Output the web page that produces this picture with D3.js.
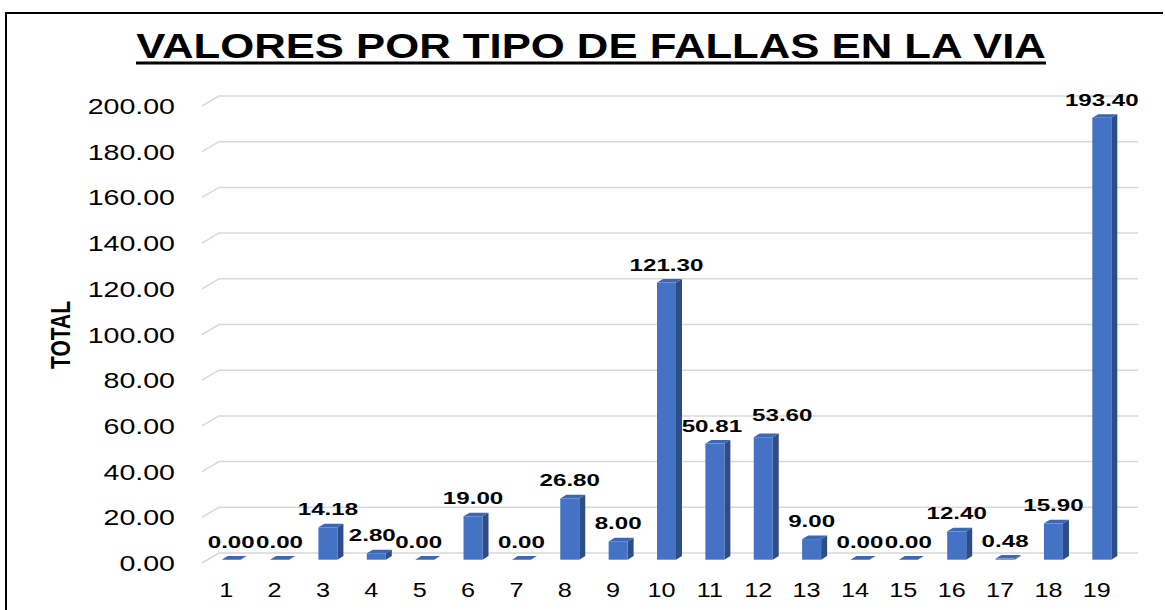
<!DOCTYPE html>
<meta charset="utf-8">
<head>
<script src="https://cdn.jsdelivr.net/npm/d3@7"></script>
<style>
body { margin: 0; background: #fff; }
text { font-family: "Liberation Sans", Arial, sans-serif; fill: #000; }
</style>
</head>
<body>
<div id="chart"></div>
<script>
// data
var categories = ["1","2","3","4","5","6","7","8","9","10","11","12","13","14","15","16","17","18","19"];
var values = [0.00, 0.00, 14.18, 2.80, 0.00, 19.00, 0.00, 26.80, 8.00, 121.30, 50.81, 53.60, 9.00, 0.00, 0.00, 12.40, 0.48, 15.90, 193.40];
var yTicks = [0, 20, 40, 60, 80, 100, 120, 140, 160, 180, 200];
var title = "VALORES POR TIPO DE FALLAS EN LA VIA";
var yTitle = "TOTAL";

// labels that were moved by hand in the original so they don't collide
var labelNudge = {"4": [-4, 0], "5": [-6, 0], "11": [-3, 0], "12": [19, -4]};

var W = 1165, H = 610;
var svg = d3.select("#chart").append("svg")
    .attr("width", W).attr("height", H);

// front plane scales
var x = d3.scaleBand().domain(categories).range([202, 1121]);
var y = d3.scaleLinear().domain([0, 200]).range([563, 106]);

// 3d offsets
var wall = {dx: 17, dy: -10};     // back wall
var mid = {dx: 5, dy: -3.3};      // bar front face
var depth = {dx: 6, dy: -3.6};    // bar thickness
var barW = 19;

// frame
svg.append("path")
    .attr("d", "M6,610 L6,13 L1163,13")
    .attr("fill", "none").attr("stroke", "#000").attr("stroke-width", 2);

// gridlines on back wall + left stubs
var grid = svg.append("g");
yTicks.forEach(function(t) {
  var yy = y(t);
  grid.append("path")
      .attr("d", "M" + x.range()[0] + "," + yy + " L" + (x.range()[0] + wall.dx) + "," + (yy + wall.dy) +
                 " L" + (x.range()[1] + wall.dx) + "," + (yy + wall.dy))
      .attr("fill", "none").attr("stroke", "#d9d9d9").attr("stroke-width", 1.5);
});

// helper for horizontally stretched text
function stretchText(g, px, py, str, size, weight, sx, anchor) {
  return g.append("text")
      .attr("transform", "translate(" + px + "," + py + ") scale(" + sx + ",1)")
      .attr("text-anchor", anchor)
      .style("font-size", size + "px")
      .style("font-weight", weight)
      .text(str);
}

// y tick labels
var yAx = svg.append("g");
yTicks.forEach(function(t) {
  stretchText(yAx, 175, y(t) + 8, t.toFixed(2), 22.5, "normal", 1.27, "end");
});

// x labels
var xAx = svg.append("g");
categories.forEach(function(c) {
  stretchText(xAx, x(c) + x.bandwidth() / 2, 597, c, 21, "normal", 1.2, "middle");
});

// bars
var bars = svg.append("g");
categories.forEach(function(c, i) {
  var v = values[i];
  var x0 = x(c) + x.bandwidth() / 2 + mid.dx - barW / 2;
  var x1 = x0 + barW;
  var yb = y(0) + mid.dy;
  var yt = y(v) + mid.dy;
  // side
  bars.append("path")
      .attr("d", "M" + x1 + "," + yb + " L" + (x1 + depth.dx) + "," + (yb + depth.dy) +
                 " L" + (x1 + depth.dx) + "," + (yt + depth.dy) + " L" + x1 + "," + yt + "Z")
      .attr("fill", "#2c4d87");
  // top
  bars.append("path")
      .attr("d", "M" + x0 + "," + yt + " L" + x1 + "," + yt + " L" + (x1 + depth.dx) + "," + (yt + depth.dy) +
                 " L" + (x0 + depth.dx) + "," + (yt + depth.dy) + "Z")
      .attr("fill", "#3d66b3");
  // front
  bars.append("rect")
      .attr("x", x0).attr("y", yt)
      .attr("width", barW).attr("height", yb - yt)
      .attr("fill", "#4472c4");
  // value label
  var nd = labelNudge[c] || [0, 0];
  stretchText(bars, x0 + barW / 2 + nd[0], yt - 12 + nd[1], v.toFixed(2), 17, "bold", 1.42, "middle");
});

// axis title
svg.append("text")
    .attr("transform", "translate(70,335) scale(1.3,1) rotate(-90)")
    .attr("text-anchor", "middle")
    .style("font-size", "21px").style("font-weight", "bold")
    .text(yTitle);

// chart title, stretched to the width seen in the picture
var t = svg.append("text")
    .attr("text-anchor", "middle")
    .style("font-size", "35px").style("font-weight", "bold")
    .text(title);
var tw = t.node().getComputedTextLength();
var sx = 910 / tw;
t.attr("transform", "translate(591,58) scale(" + sx + ",1)");
svg.append("rect")
    .attr("x", 136).attr("y", 61.5).attr("width", 910).attr("height", 3)
    .attr("fill", "#000");
</script>
</body>
